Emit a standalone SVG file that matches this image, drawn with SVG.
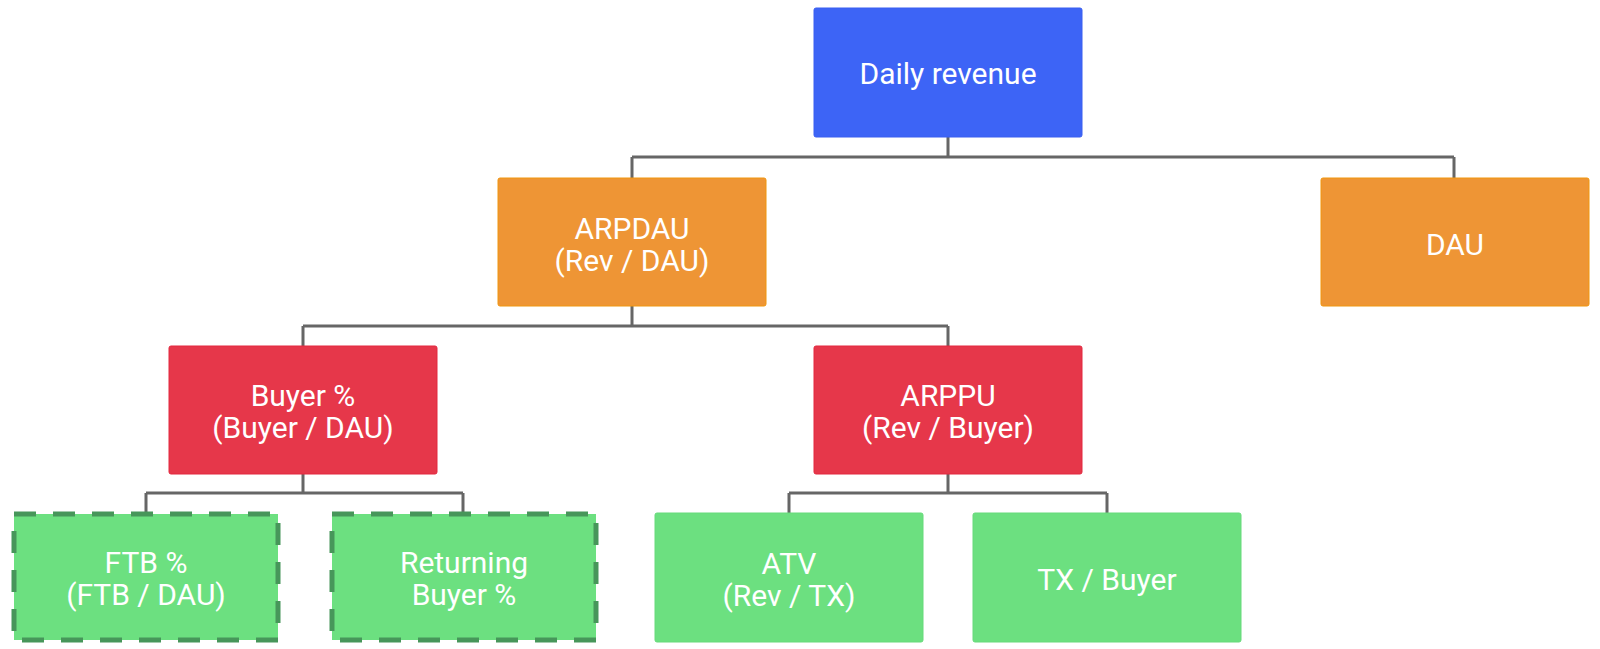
<svg xmlns="http://www.w3.org/2000/svg" width="1600" height="649" viewBox="0 0 1600 649">
<style>
.box{stroke-width:1}
.blue{fill:#3d64f6;stroke:#3a5ff0}
.orange{fill:#ee9535;stroke:#f0960f}
.red{fill:#e6374a;stroke:#e3283f}
.green{fill:#6ce080;stroke:#66da7a}
.dashed{fill:#6ce080;stroke:#47965a;stroke-width:5;stroke-dasharray:22 17}
.lbl{font-family:Roboto,"Liberation Sans",sans-serif;font-size:30px;fill:#ffffff;text-anchor:middle}
.conn{fill:none;stroke:#666666;stroke-width:3}
</style>
<g id="connectors">
<path class="conn" d="M948 137V157M632 157H1454M632 157V178M1454 157V178"/>
<path class="conn" d="M632 306V326M303 326H948M303 326V346M948 326V346"/>
<path class="conn" d="M303 474V493M146 493H463M146 493V514M463 493V514"/>
<path class="conn" d="M948 474V493M789 493H1107M789 493V513M1107 493V513"/>
</g>
<g id="daily-revenue"><rect class="box blue" x="814" y="8" width="268" height="129" rx="2"/><text class="lbl" x="948" y="84">Daily revenue</text></g>
<g id="arpdau"><rect class="box orange" x="498" y="178" width="268" height="128" rx="2"/><text class="lbl" x="632" y="239">ARPDAU<tspan x="632" dy="32">(Rev / DAU)</tspan></text></g>
<g id="dau"><rect class="box orange" x="1321" y="178" width="268" height="128" rx="2"/><text class="lbl" x="1455" y="255">DAU</text></g>
<g id="buyer-pct"><rect class="box red" x="169" y="346" width="268" height="128" rx="2"/><text class="lbl" x="303" y="406">Buyer %<tspan x="303" dy="32">(Buyer / DAU)</tspan></text></g>
<g id="arppu"><rect class="box red" x="814" y="346" width="268" height="128" rx="2"/><text class="lbl" x="948" y="406">ARPPU<tspan x="948" dy="32">(Rev / Buyer)</tspan></text></g>
<g id="ftb-pct"><rect class="dashed" x="14" y="514" width="264" height="126"/><text class="lbl" x="146" y="573">FTB %<tspan x="146" dy="32">(FTB / DAU)</tspan></text></g>
<g id="returning-buyer"><rect class="dashed" x="332" y="514" width="264" height="126"/><text class="lbl" x="464" y="573">Returning<tspan x="464" dy="32">Buyer %</tspan></text></g>
<g id="atv"><rect class="box green" x="655" y="513" width="268" height="129" rx="2"/><text class="lbl" x="789" y="574">ATV<tspan x="789" dy="32">(Rev / TX)</tspan></text></g>
<g id="tx-buyer"><rect class="box green" x="973" y="513" width="268" height="129" rx="2"/><text class="lbl" x="1107" y="590">TX / Buyer</text></g>
</svg>
